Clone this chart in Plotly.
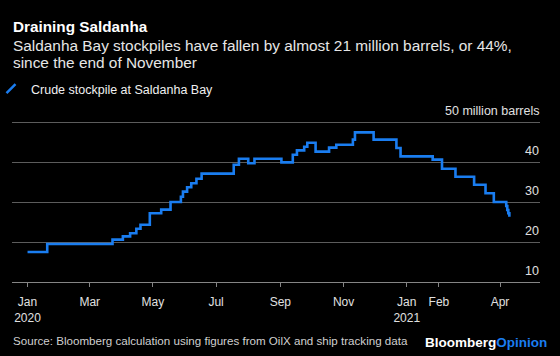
import plotly.graph_objects as go

# ---- data ----
dates = [
    "2020-01-01", "2020-01-20", "2020-03-23", "2020-04-02", "2020-04-09",
    "2020-04-15", "2020-04-19", "2020-04-28", "2020-05-09", "2020-05-18",
    "2020-05-28", "2020-05-30", "2020-06-03", "2020-06-07", "2020-06-12",
    "2020-06-17", "2020-07-18", "2020-07-23", "2020-08-01", "2020-08-07",
    "2020-09-02", "2020-09-13", "2020-09-17", "2020-09-24", "2020-09-27",
    "2020-10-05", "2020-10-18", "2020-10-25", "2020-11-10", "2020-11-12",
    "2020-11-30", "2020-12-22", "2020-12-26", "2021-01-26", "2021-02-04",
    "2021-02-17", "2021-03-07", "2021-03-18", "2021-03-26", "2021-04-07",
    "2021-04-08", "2021-04-09", "2021-04-10",
]
stockpile = [
    17.5, 19.5, 20.6, 21.4, 22.2,
    23.3, 24.3, 27.2, 28.1, 30.0,
    31.3, 32.6, 33.7, 34.7, 35.8,
    37.1, 39.3, 40.8, 39.7, 40.8,
    39.9, 41.8, 42.9, 43.8, 44.8,
    42.6, 43.6, 44.3, 45.6, 47.4,
    45.6, 43.5, 41.4, 40.6, 38.3,
    36.3, 34.3, 32.2, 30.0, 29.0,
    28.0, 27.2, 26.3,
]
series_name = "Crude stockpile at Saldanha Bay"

x_tick_vals = ["2020-01-01", "2020-03-01", "2020-05-01", "2020-07-01", "2020-09-01",
               "2020-11-01", "2021-01-01", "2021-02-01", "2021-04-01"]
x_tick_text = ["Jan<br>2020", "Mar", "May", "Jul", "Sep", "Nov", "Jan<br>2021", "Feb", "Apr"]
x_range = ["2019-12-17", "2021-05-09 14:00"]

y_tick_vals = [10, 20, 30, 40, 50]
y_tick_text = ["10", "20", "30", "40", "50 million barrels"]
y_range = [10, 51]

title = "Draining Saldanha"
subtitle_lines = [
    "Saldanha Bay stockpiles have fallen by almost 21 million barrels, or 44%,",
    "since the end of November",
]
source = "Source: Bloomberg calculation using figures from OilX and ship tracking data"

# ---- styling ----
W, H = 560, 356
ML, MR, MT, MB = 12, 20, 118, 74
BLUE = "#1a7df0"
FONT = "Liberation Sans, Arial, Helvetica, sans-serif"
GRID = "#5c5c5c"
AXIS = "#858585"


def paper_y(px):
    return (H - MB - px) / (H - MT - MB)


def paper_x(px):
    return (px - ML) / (W - ML - MR)


fig = go.Figure()
fig.add_trace(go.Scatter(
    x=dates, y=stockpile, mode="lines",
    line=dict(color=BLUE, width=2.6, shape="hv"),
    showlegend=False, hoverinfo="skip",
))
fig.add_trace(go.Scatter(
    x=[None], y=[None], mode="markers", name=series_name,
    marker=dict(symbol="line-ne", size=9, color=BLUE, line=dict(color=BLUE, width=2.5)),
    showlegend=True,
))

annotations = [
    dict(text="<b>%s</b>" % title, x=paper_x(12), y=paper_y(27),
         font=dict(size=15.3, color="#ffffff")),
    dict(text=subtitle_lines[0], x=paper_x(12), y=paper_y(45),
         font=dict(size=15.4, color="#e6e6e6")),
    dict(text=subtitle_lines[1], x=paper_x(12), y=paper_y(63),
         font=dict(size=15.4, color="#e6e6e6")),
    dict(text=source, x=paper_x(12), y=paper_y(340),
         font=dict(size=11.6, color="#d0d0d0")),
]
for a in annotations:
    a.update(xref="paper", yref="paper", xanchor="left", yanchor="middle",
             showarrow=False, borderpad=0)

for v, t in zip(y_tick_vals, y_tick_text):
    annotations.append(dict(
        text=t, x=1, xref="paper", y=v, yref="y", xanchor="right", yanchor="bottom",
        yshift=3, showarrow=False, borderpad=0, font=dict(size=12.5, color="#e0e0e0"),
    ))

annotations.append(dict(
    text="<b>Bloomberg</b><b><span style='color:%s'>Opinion</span></b>" % BLUE,
    x=paper_x(548), y=paper_y(342.5), xref="paper", yref="paper",
    xanchor="right", yanchor="middle", showarrow=False, borderpad=0,
    font=dict(size=13.5, color="#ffffff"),
))

fig.update_layout(
    width=W, height=H,
    margin=dict(l=ML, r=MR, t=MT, b=MB, autoexpand=False),
    paper_bgcolor="#000000", plot_bgcolor="#000000",
    font=dict(family=FONT, color="#e0e0e0", size=12),
    showlegend=True,
    legend=dict(x=paper_x(-9), xanchor="left", y=paper_y(89), yanchor="middle",
                font=dict(size=12.5, color="#f0f0f0"), bgcolor="rgba(0,0,0,0)",
                borderwidth=0, itemwidth=30),
    xaxis=dict(type="date", range=x_range, tickvals=x_tick_vals, ticktext=x_tick_text,
               ticks="outside", ticklen=4, tickcolor=AXIS, tickwidth=1,
               showgrid=False, showline=True, linecolor=AXIS, linewidth=1,
               zeroline=False, tickfont=dict(size=12, color="#e0e0e0"),
               ticklabelstandoff=5, fixedrange=True),
    yaxis=dict(range=y_range, tickvals=y_tick_vals, showticklabels=False,
               showgrid=True, gridcolor=GRID, gridwidth=1, zeroline=False,
               showline=False, ticks="", fixedrange=True),
    annotations=annotations,
)

fig.write_html(
    "out.html",
    config={"displayModeBar": False, "staticPlot": True},
    post_script="document.body.style.margin='0';document.documentElement.style.overflow='hidden';",
)
